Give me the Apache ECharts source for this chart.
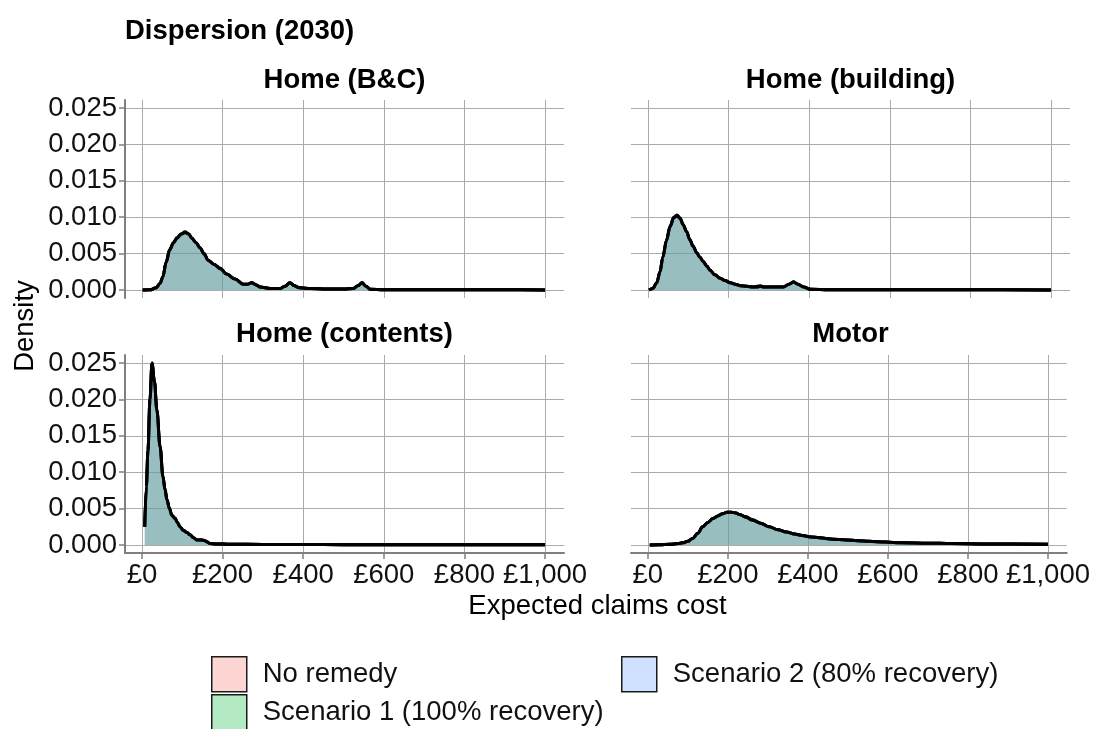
<!DOCTYPE html>
<html>
<head>
<meta charset="utf-8">
<script src="https://cdn.jsdelivr.net/npm/echarts@6/dist/echarts.min.js"></script>
<style>
html,body{margin:0;padding:0;background:#fff;}
#chart{width:1093px;height:729px;}
</style>
</head>
<body>
<div id="chart"></div>
<script>
// ---------------- DATA ----------------
const chartTitle = 'Dispersion (2030)';
const panelNames = ['Home (B&C)', 'Home (building)', 'Home (contents)', 'Motor'];
const scenarioNames = ['No remedy', 'Scenario 1 (100% recovery)', 'Scenario 2 (80% recovery)'];
const xTicks = [0, 200, 400, 600, 800, 1000];
const yTicks = [0, 0.005, 0.010, 0.015, 0.020, 0.025];
const xAxisTitle = 'Expected claims cost';
const yAxisTitle = 'Density';

// Home (B&C)
const bcX = [2, 20, 35, 45, 52, 60, 69, 78, 87, 97, 107, 116, 124, 134, 144, 154, 164, 179, 194, 210, 231, 251, 262, 272, 283, 293, 318, 342, 355, 367, 378, 390, 420, 460, 500, 524, 536, 546, 556, 566, 600, 700, 800, 900, 1000];
const bcNoRemedy = [0, 0.00002, 0.0003, 0.0009, 0.0018, 0.0038, 0.0055, 0.0064, 0.0071, 0.0076, 0.0079, 0.0077, 0.0071, 0.0065, 0.0058, 0.0050, 0.0041, 0.0035, 0.0030, 0.0022, 0.0015, 0.0008, 0.0008, 0.0010, 0.0007, 0.0004, 0.0002, 0.0002, 0.0005, 0.0010, 0.0006, 0.0003, 0.0002, 0.00015, 0.00015, 0.0002, 0.0006, 0.0010, 0.0005, 0.0001, 0.00005, 0.00003, 0.00002, 0.00002, 0.00001];
const bcScen1 = [0, 0.00002, 0.0003, 0.0009, 0.0018, 0.0038, 0.0056, 0.0065, 0.0072, 0.0077, 0.0080, 0.0077, 0.0071, 0.0065, 0.0058, 0.0049, 0.0041, 0.0035, 0.0029, 0.0022, 0.0015, 0.0008, 0.0008, 0.0010, 0.0007, 0.0004, 0.0002, 0.0002, 0.0005, 0.0010, 0.0006, 0.0003, 0.0002, 0.00015, 0.00015, 0.0002, 0.0006, 0.0010, 0.0005, 0.0001, 0.00005, 0.00003, 0.00002, 0.00002, 0.00001];
const bcScen2 = [0, 0.00002, 0.0003, 0.0009, 0.0018, 0.0038, 0.0055, 0.0065, 0.0071, 0.0077, 0.0079, 0.0077, 0.0071, 0.0065, 0.0058, 0.0050, 0.0041, 0.0035, 0.0030, 0.0022, 0.0015, 0.0008, 0.0008, 0.0010, 0.0007, 0.0004, 0.0002, 0.0002, 0.0005, 0.0010, 0.0006, 0.0003, 0.0002, 0.00015, 0.00015, 0.0002, 0.0006, 0.0010, 0.0005, 0.0001, 0.00005, 0.00003, 0.00002, 0.00002, 0.00001];

// Home (building)
const blX = [3, 12, 22, 30, 37, 46, 55, 64, 72, 80, 87, 96, 104, 112, 121, 129, 137, 146, 154, 166, 179, 191, 204, 216, 229, 245, 261, 270, 279, 288, 296, 316, 336, 350, 361, 372, 386, 403, 450, 600, 800, 1000];
const blNoRemedy = [0, 0.0002, 0.0010, 0.0025, 0.0045, 0.0068, 0.0087, 0.0099, 0.0102, 0.0098, 0.0090, 0.0080, 0.0069, 0.0060, 0.0051, 0.0045, 0.0039, 0.0033, 0.0027, 0.0021, 0.0016, 0.0013, 0.0010, 0.0008, 0.0006, 0.0005, 0.0004, 0.0005, 0.0006, 0.0004, 0.0004, 0.0004, 0.0004, 0.0008, 0.0011, 0.0008, 0.0004, 0.0001, 0.00005, 0.00003, 0.00002, 0.00001];
const blScen1 = [0, 0.0002, 0.0010, 0.0025, 0.0045, 0.0068, 0.0088, 0.0100, 0.0103, 0.0099, 0.0090, 0.0080, 0.0069, 0.0060, 0.0051, 0.0045, 0.0039, 0.0033, 0.0027, 0.0021, 0.0016, 0.0013, 0.0010, 0.0008, 0.0006, 0.0005, 0.0004, 0.0004, 0.0005, 0.0004, 0.0004, 0.0004, 0.0004, 0.0008, 0.0011, 0.0008, 0.0004, 0.0001, 0.00005, 0.00003, 0.00002, 0.00001];
const blScen2 = [0, 0.0002, 0.0010, 0.0025, 0.0045, 0.0068, 0.0087, 0.0099, 0.0102, 0.0098, 0.0090, 0.0080, 0.0069, 0.0060, 0.0051, 0.0045, 0.0039, 0.0033, 0.0027, 0.0021, 0.0016, 0.0013, 0.0010, 0.0008, 0.0006, 0.0005, 0.0004, 0.0004, 0.0005, 0.0004, 0.0004, 0.0004, 0.0004, 0.0008, 0.0011, 0.0008, 0.0004, 0.0001, 0.00005, 0.00003, 0.00002, 0.00001];

// Home (contents)
const ctX = [7, 11, 15, 20, 25, 31, 37, 45, 52, 57, 62, 68, 74, 82, 88, 94, 103, 112, 119, 128, 136, 146, 156, 162, 169, 185, 220, 300, 400, 500, 600, 700, 800, 900, 1000];
const ctNoRemedy = [0.0025, 0.0080, 0.0130, 0.0200, 0.0250, 0.0225, 0.0185, 0.0135, 0.0094, 0.0077, 0.0062, 0.0050, 0.0041, 0.0037, 0.0031, 0.0025, 0.0020, 0.0017, 0.0014, 0.0010, 0.0007, 0.0007, 0.0006, 0.0004, 0.0002, 0.00015, 0.0001, 0.00008, 0.00006, 0.00005, 0.00004, 0.00003, 0.00003, 0.00002, 0.00002];
const ctScen1 = [0.0025, 0.0080, 0.0130, 0.0200, 0.0249, 0.0224, 0.0185, 0.0135, 0.0095, 0.0078, 0.0063, 0.0050, 0.0041, 0.0036, 0.0031, 0.0025, 0.0020, 0.0017, 0.0014, 0.0010, 0.0007, 0.0007, 0.0006, 0.0004, 0.0002, 0.00015, 0.0001, 0.00008, 0.00006, 0.00005, 0.00004, 0.00003, 0.00003, 0.00002, 0.00002];
const ctScen2 = [0.0025, 0.0080, 0.0130, 0.0200, 0.0250, 0.0225, 0.0186, 0.0135, 0.0094, 0.0076, 0.0062, 0.0051, 0.0041, 0.0037, 0.0031, 0.0025, 0.0020, 0.0017, 0.0014, 0.0010, 0.0007, 0.0007, 0.0006, 0.0004, 0.0002, 0.00015, 0.0001, 0.00008, 0.00006, 0.00005, 0.00004, 0.00003, 0.00003, 0.00002, 0.00002];

// Motor
const mtX = [5, 30, 55, 75, 87, 100, 112, 125, 137, 150, 162, 175, 187, 198, 209, 220, 229, 245, 261, 282, 303, 325, 346, 366, 386, 407, 428, 462, 495, 524, 552, 593, 634, 700, 759, 850, 1000];
const mtNoRemedy = [0, 0.00003, 0.0001, 0.0002, 0.0003, 0.0005, 0.0009, 0.0016, 0.0025, 0.0031, 0.0036, 0.0040, 0.0043, 0.0045, 0.0045, 0.0044, 0.0042, 0.0038, 0.0034, 0.0030, 0.0025, 0.0021, 0.0018, 0.0015, 0.0013, 0.0011, 0.0010, 0.0008, 0.0007, 0.0006, 0.0005, 0.0004, 0.0003, 0.00025, 0.0002, 0.00015, 0.0001];
const mtScen1 = [0, 0.00003, 0.0001, 0.0002, 0.0003, 0.0005, 0.0009, 0.0016, 0.0025, 0.0031, 0.0036, 0.0040, 0.0043, 0.0045, 0.0045, 0.0044, 0.0042, 0.0039, 0.0035, 0.0030, 0.0025, 0.0021, 0.0018, 0.0015, 0.0013, 0.0011, 0.0010, 0.0008, 0.0007, 0.0006, 0.0005, 0.0004, 0.0003, 0.00025, 0.0002, 0.00015, 0.0001];
const mtScen2 = [0, 0.00003, 0.0001, 0.0002, 0.0003, 0.0005, 0.0009, 0.0016, 0.0025, 0.0031, 0.0036, 0.0040, 0.0043, 0.0045, 0.0045, 0.0044, 0.0042, 0.0038, 0.0034, 0.0030, 0.0025, 0.0021, 0.0018, 0.0015, 0.0013, 0.0011, 0.0010, 0.0008, 0.0007, 0.0006, 0.0005, 0.0004, 0.0003, 0.00025, 0.0002, 0.00015, 0.0001];

// ---------------- BUILD ----------------
const panels = [
  { x: bcX, ys: [bcNoRemedy, bcScen1, bcScen2] },
  { x: blX, ys: [blNoRemedy, blScen1, blScen2] },
  { x: ctX, ys: [ctNoRemedy, ctScen1, ctScen2] },
  { x: mtX, ys: [mtNoRemedy, mtScen1, mtScen2] }
];
const fillColors = ['#F8766D', '#00BA38', '#619CFF'];
const keyColors = ['#FDD6D3', '#B3EAC3', '#D0E1FF'];
const FONT = '"Liberation Sans", Arial, sans-serif';
const FS = 27.5;
const gridColor = '#ababab';
const axisColor = '#7f7f7f';

const gridBoxes = [
  { left: 125, top: 100, width: 439, height: 198 },
  { left: 631, top: 100, width: 439, height: 198 },
  { left: 125, top: 355, width: 439, height: 198 },
  { left: 631, top: 355, width: 439, height: 198 }
];

const grids = gridBoxes.map(b => Object.assign({ containLabel: false }, b));
const xAxes = gridBoxes.map((b, i) => {
  const bottom = i >= 2;
  return {
    type: 'value', gridIndex: i, min: -42, max: 1047,
    axisLine: { show: bottom, onZero: false, lineStyle: { color: axisColor, width: 2 } },
    axisTick: { show: bottom, customValues: xTicks, length: 6, lineStyle: { color: axisColor, width: 1.5 } },
    axisLabel: { show: bottom, customValues: xTicks, fontSize: FS, fontFamily: FONT, color: '#111', margin: 8,
      formatter: v => '£' + Number(v).toLocaleString('en-GB') },
    splitLine: { show: true, lineStyle: { color: gridColor, width: 1 } }
  };
});
const yAxes = gridBoxes.map((b, i) => {
  const left = (i % 2) === 0;
  return {
    type: 'value', gridIndex: i, min: -0.0011, max: 0.0261,
    axisLine: { show: left, onZero: false, lineStyle: { color: axisColor, width: 2 } },
    axisTick: { show: left, customValues: yTicks, length: 6, lineStyle: { color: axisColor, width: 1.5 } },
    axisLabel: { show: left, customValues: yTicks, fontSize: FS, fontFamily: FONT, color: '#111', margin: 8,
      formatter: v => Number(v).toFixed(3) },
    splitLine: { show: true, lineStyle: { color: gridColor, width: 1 } }
  };
});

const series = [];
panels.forEach((p, pi) => {
  p.ys.forEach((ys, si) => {
    series.push({
      type: 'line', name: scenarioNames[si], xAxisIndex: pi, yAxisIndex: pi,
      data: p.x.map((x, k) => [x, ys[k]]),
      smooth: 0.35, smoothMonotone: 'x', symbol: 'none', showSymbol: false,
      silent: true,
      itemStyle: { color: keyColors[si] },
      lineStyle: { color: '#000', width: 3 },
      areaStyle: { color: fillColors[si], opacity: 0.3 },
      z: 2 + si
    });
  });
});

function legendAt(i, left, top) {
  return {
    left: left, top: top, orient: 'vertical', icon: 'rect',
    itemWidth: 35, itemHeight: 35, itemGap: 0, padding: 0, selectedMode: false,
    textStyle: { fontSize: FS, fontFamily: FONT, color: '#111', padding: [0, 0, 0, 11] },
    data: [{ name: scenarioNames[i], itemStyle: { color: keyColors[i], borderColor: '#1a1a1a', borderWidth: 1.5 } }]
  };
}

function txt(x, y, text, bold, rot, align) {
  return {
    type: 'text', x: x, y: y, rotation: rot || 0,
    style: {
      text: text, fill: '#000',
      font: (bold ? 'bold ' : '') + FS + 'px ' + FONT,
      textAlign: align || 'center', textVerticalAlign: 'middle', align: align || 'center', verticalAlign: 'middle'
    }
  };
}

const option = {
  animation: false,
  backgroundColor: '#fff',
  grid: grids,
  xAxis: xAxes,
  yAxis: yAxes,
  series: series,
  legend: [
    legendAt(0, 211, 656),
    legendAt(1, 211, 694),
    legendAt(2, 621, 656)
  ],
  graphic: [
    txt(125, 31, chartTitle, true, 0, 'left'),
    txt(344.5, 80, panelNames[0], true),
    txt(850.5, 80, panelNames[1], true),
    txt(344.5, 334, panelNames[2], true),
    txt(850.5, 334, panelNames[3], true),
    txt(597.5, 606, xAxisTitle, false),
    txt(25, 326, yAxisTitle, false, Math.PI / 2)
  ]
};

const chart = echarts.init(document.getElementById('chart'), null, { renderer: 'canvas' });
chart.setOption(option);
</script>
</body>
</html>
